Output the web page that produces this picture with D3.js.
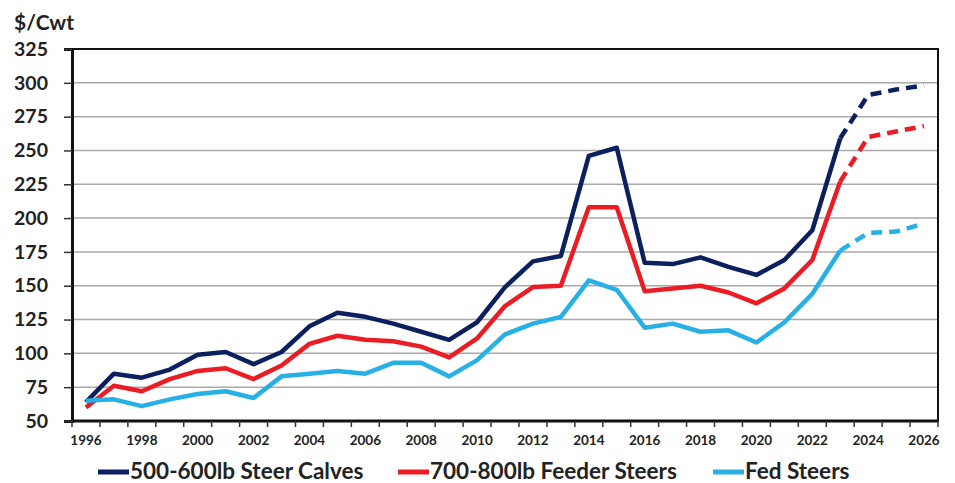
<!DOCTYPE html>
<html>
<head>
<meta charset="utf-8">
<script src="https://cdn.jsdelivr.net/npm/d3@7"></script>
<style>
  html, body { margin: 0; padding: 0; background: #fff; }
  svg { display: block; font-family: Lato, "Open Sans", sans-serif; font-weight: 700; }
</style>
</head>
<body>
<svg id="chart" width="955" height="483"></svg>
<script>
// Annual cattle prices, $/cwt (2024-2026 are projections)
const years = d3.range(1996, 2027);
const steerCalves = [64, 85, 82, 88, 99, 101, 92, 101, 120, 130, 127, 122, 116, 110, 123,
  149, 168, 172, 246, 252, 167, 166, 171, 164, 158, 169, 191, 259, 291, 295, 298];
const feederSteers = [60, 76, 72, 81, 87, 89, 81, 91, 107, 113, 110, 109, 105, 97, 111,
  135, 149, 150, 208, 208, 146, 148, 150, 145, 137, 148, 169, 227, 260, 264, 268];
const fedSteers = [65, 66, 61, 66, 70, 72, 67, 83, 85, 87, 85, 93, 93, 83, 95,
  114, 122, 127, 154, 147, 119, 122, 116, 117, 108, 123, 144, 176, 189, 190, 196];
const yTicks = [50, 75, 100, 125, 150, 175, 200, 225, 250, 275, 300, 325];
const xLabelYears = d3.range(1996, 2027, 2);
const lastActual = 2023;

const series = [
  { name: "500-600lb Steer Calves", values: steerCalves, color: "#0c1f5e" },
  { name: "700-800lb Feeder Steers", values: feederSteers, color: "#ec1c24" },
  { name: "Fed Steers", values: fedSteers, color: "#27b0e6" }
];

const svg = d3.select("#chart");
const plotL = 72, plotR = 938, plotT = 49, plotB = 421;

const x = d3.scaleBand().domain(years).range([plotL, plotR]);
const y = d3.scaleLinear().domain([50, 325]).range([plotB, plotT]);

// horizontal gridlines
svg.append("g").selectAll("line").data(yTicks.slice(1, -1)).join("line")
  .attr("x1", plotL).attr("x2", plotR)
  .attr("y1", d => y(d)).attr("y2", d => y(d))
  .attr("stroke", "#a9a9a9").attr("stroke-width", 1.5);

// plot frame
svg.append("rect")
  .attr("x", plotL).attr("y", plotT)
  .attr("width", plotR - plotL).attr("height", plotB - plotT)
  .attr("fill", "none").attr("stroke", "#111").attr("stroke-width", 2);

// y axis
const yAxis = svg.append("g").attr("transform", `translate(${plotL},0)`)
  .call(d3.axisLeft(y).tickValues(yTicks).tickSize(8).tickPadding(16));
yAxis.select(".domain").attr("stroke", "#111").attr("stroke-width", 3);
yAxis.selectAll(".tick line").attr("stroke", "#333").attr("stroke-width", 1.5);
yAxis.selectAll(".tick text")
  .attr("font-size", 19.5).attr("font-family", "Lato, sans-serif").attr("font-weight", 700)
  .attr("fill", "#222");

// x axis: tick marks on category boundaries, labels every other year
const bw = x.bandwidth();
const xAxisG = svg.append("g");
xAxisG.append("line")
  .attr("x1", plotL).attr("x2", plotR).attr("y1", plotB).attr("y2", plotB)
  .attr("stroke", "#111").attr("stroke-width", 3);
xAxisG.selectAll("line.tk").data(years.concat([years[years.length - 1] + 1])).join("line")
  .attr("class", "tk")
  .attr("x1", (d, i) => plotL + i * bw).attr("x2", (d, i) => plotL + i * bw)
  .attr("y1", plotB).attr("y2", plotB + 6)
  .attr("stroke", "#333").attr("stroke-width", 1.5);
xAxisG.selectAll("text").data(xLabelYears).join("text")
  .attr("x", d => x(d) + bw / 2).attr("y", 445)
  .attr("text-anchor", "middle")
  .attr("font-size", 13.5).attr("fill", "#222")
  .text(d => d);

// axis unit label
svg.append("text").attr("x", 14).attr("y", 30)
  .attr("font-size", 21).attr("fill", "#222").text("$/Cwt");

// lines: solid through the last actual year, dashed for projections
const line = d3.line()
  .x(d => x(d.year) + bw / 2)
  .y(d => y(d.value));

series.forEach(s => {
  const pts = years.map((yr, i) => ({ year: yr, value: s.values[i] }));
  const actual = pts.filter(p => p.year <= lastActual);
  const proj = pts.filter(p => p.year >= lastActual);
  svg.append("path").datum(actual)
    .attr("d", line).attr("fill", "none")
    .attr("stroke", s.color).attr("stroke-width", 4.5)
    .attr("stroke-linejoin", "round");
  svg.append("path").datum(proj)
    .attr("d", line).attr("fill", "none")
    .attr("stroke", s.color).attr("stroke-width", 4.5)
    .attr("stroke-dasharray", "11,7");
});

// legend
const legendItems = [
  { x: 98, s: series[0] },
  { x: 398, s: series[1] },
  { x: 713, s: series[2] }
];
const lg = svg.append("g");
legendItems.forEach(it => {
  lg.append("line")
    .attr("x1", it.x).attr("x2", it.x + 31)
    .attr("y1", 472).attr("y2", 472)
    .attr("stroke", it.s.color).attr("stroke-width", 5);
  lg.append("text")
    .attr("x", it.x + 32).attr("y", 479)
    .attr("font-size", 22.5).attr("fill", "#222")
    .text(it.s.name);
});
</script>
</body>
</html>
